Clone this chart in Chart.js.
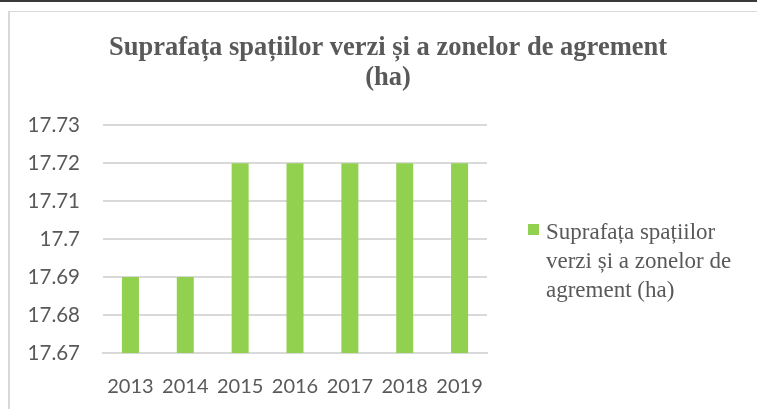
<!DOCTYPE html>
<html>
<head>
<meta charset="utf-8">
<script src="https://cdn.jsdelivr.net/npm/chart.js@4.4.0/dist/chart.umd.min.js"></script>
<style>
  body { margin: 0; width: 757px; height: 409px; overflow: hidden; background: #fff; position: relative; }
  #topline { position: absolute; left: 0; top: 0; width: 757px; height: 2px; background: #3a3a3a; }
  #frame { position: absolute; left: 8px; top: 11px; width: 800px; height: 500px; border-left: 2px solid #d9d9d9; border-top: 1px solid #d9d9d9; }
  #wrap { position: absolute; left: 0; top: 0; width: 776px; height: 409px; }
  #legend { position: absolute; left: 528px; top: 217px; font-family: "Liberation Serif", "Times New Roman", serif; font-size: 23px; line-height: 29px; color: #595959; }
  #legend .box { position: absolute; left: 0; top: 7px; width: 11px; height: 11px; background: #92D050; }
  #legend .txt { margin-left: 18px; width: 200px; }
</style>
</head>
<body>
<div id="topline"></div>
<div id="frame"></div>
<div id="wrap"><canvas id="chart"></canvas></div>
<div id="legend"><div class="box"></div><div class="txt" id="legendText"></div></div>
<script>
const years = ["2013", "2014", "2015", "2016", "2017", "2018", "2019"];
const values = [17.69, 17.69, 17.72, 17.72, 17.72, 17.72, 17.72];
const seriesName = "Suprafața spațiilor verzi și a zonelor de agrement (ha)";
const titleLines = ["Suprafața spațiilor verzi și a zonelor de agrement", "(ha)"];

document.getElementById("legendText").textContent = seriesName;

new Chart(document.getElementById("chart"), {
    type: "bar",
    data: {
        labels: years,
        datasets: [{
            label: seriesName,
            data: values,
            backgroundColor: "#92D050",
            categoryPercentage: 1,
            barPercentage: 0.31
        }]
    },
    options: {
        responsive: true,
        maintainAspectRatio: false,
        animation: false,
        layout: { padding: 0 },
        plugins: {
            legend: { display: false },
            tooltip: { enabled: false },
            title: {
                display: true,
                text: titleLines,
                color: "#595959",
                font: { family: "Liberation Serif", size: 26.5, weight: "bold", lineHeight: 1.1 },
                padding: { top: 34, bottom: 33 }
            }
        },
        scales: {
            x: {
                afterFit: (scale) => { scale.height = 56; },
                grid: { display: false, drawTicks: false },
                border: { display: true, color: "#d9d9d9", width: 2 },
                ticks: { color: "#595959", font: { family: "Lato", size: 20 }, padding: 22, maxRotation: 0 }
            },
            y: {
                min: 17.67,
                max: 17.73,
                afterFit: (scale) => { scale.width = 103; },
                grid: { color: "#d9d9d9", lineWidth: 2, drawTicks: false },
                border: { display: false },
                ticks: {
                    stepSize: 0.01,
                    color: "#595959",
                    font: { family: "Lato", size: 20.5 },
                    padding: 23,
                    callback: (v) => String(Number(v.toFixed(2)))
                }
            },
            // empty right axis only reserves room for the legend
            side: {
                position: "right",
                afterFit: (scale) => { scale.width = 289; },
                grid: { display: false, drawTicks: false },
                border: { display: false },
                ticks: { display: false }
            }
        }
    }
});
</script>
</body>
</html>
